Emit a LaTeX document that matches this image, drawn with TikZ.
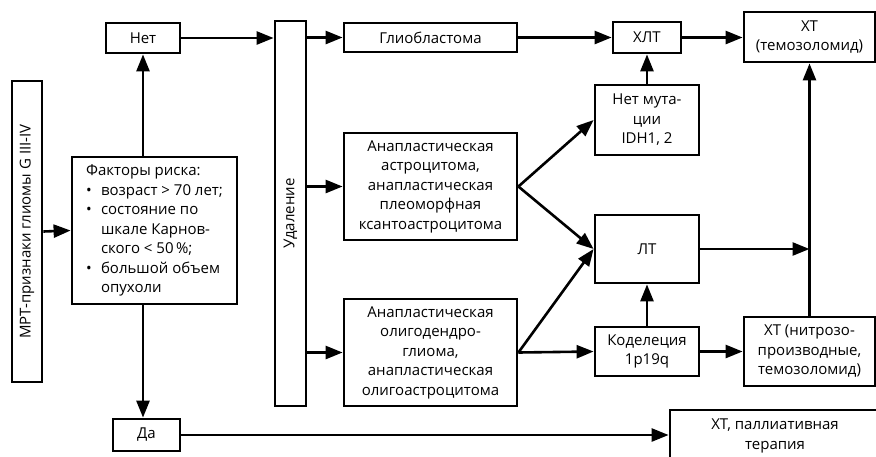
\documentclass[tikz,border=0pt]{standalone}
\usepackage{fontspec}
\setmainfont{Open Sans}
\usetikzlibrary{arrows.meta}

\begin{document}
\begin{tikzpicture}[x=1pt,y=-1pt,
        box/.style={draw,line width=2.8pt,align=center,inner sep=2pt,font=\fontsize{15}{19.5}\selectfont},
        arr/.style={line width=2.6pt,-{Triangle[length=17pt,width=13pt]}}]
        \useasboundingbox (0,0) rectangle (876,456);
        \node[box,rotate=90,minimum width=301pt,minimum height=30pt] (mrt) at (27,231.5) {МРТ-признаки глиомы G III-IV};
        \node[box,align=left,minimum width=165pt,minimum height=147pt] (factors) at (154.5,230.5)
            {Факторы риска:\\
             \makebox[15pt][l]{•}возраст > 70 лет;\\
             \makebox[15pt][l]{•}состояние по\\
             \hspace*{15pt}шкале Карнов-\\
             \hspace*{15pt}ского < 50\,\%;\\
             \makebox[15pt][l]{•}большой объем\\
             \hspace*{15pt}опухоли};
        \node[box,minimum width=74pt,minimum height=30pt] (net) at (143,38) {Нет};
        \node[box,minimum width=67pt,minimum height=32pt] (da) at (146.5,435) {Да};
        \node[box,rotate=90,minimum width=385pt,minimum height=31pt] (udal) at (290.5,213.5) {Удаление};
        \node[box,minimum width=173pt,minimum height=29pt] (glio) at (430.5,37.5) {Глиобластома};
        \node[box,minimum width=173pt,minimum height=107pt] (astro) at (430.5,186.5)
            {Анапластическая\\астроцитома,\\анапластическая\\плеоморфная\\ксантоастроцитома};
        \node[box,minimum width=173pt,minimum height=107pt] (oligo) at (430.5,352.5)
            {Анапластическая\\олигодендро-\\глиома,\\анапластическая\\олигоастроцитома};
        \node[box,minimum width=68pt,minimum height=31pt] (hlt) at (647,37.5) {ХЛТ};
        \node[box,minimum width=104pt,minimum height=70pt] (mut) at (647,120) {Нет мута-\\ции\\IDH1, 2};
        \node[box,minimum width=104pt,minimum height=68pt] (lt) at (647,249) {ЛТ};
        \node[box,minimum width=104pt,minimum height=49pt] (codel) at (647,351.5) {Коделеция\\1p19q};
        \node[box,minimum width=131pt,minimum height=50pt] (xt1) at (809.5,37) {ХТ\\(темозоломид)};
        \node[box,minimum width=131pt,minimum height=69pt] (xt2) at (809.5,351.5) {ХТ (нитрозо-\\производные,\\темозоломид)};
        \node[box,minimum width=210pt,minimum height=52pt] (xt3) at (775,436) {ХТ, паллиативная\\терапия};
        \draw[arr] (mrt.south) -- (factors.west);
        \draw[arr] (factors.north -| net.south) -- (net.south);
        \draw[arr] (factors.south -| net.south) -- (da.north -| net.south);
        \draw[arr] (net.east) -- (net.east -| udal.north);
        \draw[arr] (da.east) -- (da.east -| xt3.west);
        \draw[arr] (udal.south |- glio.west) -- (glio.west);
        \draw[arr] (udal.south |- astro.west) -- (astro.west);
        \draw[arr] (udal.south |- oligo.west) -- (oligo.west);
        \draw[arr] (glio.east) -- (hlt.west);
        \draw[arr] (hlt.east) -- (hlt.east -| xt1.west);
        \draw[arr] (astro.east) -- (mut.west);
        \draw[arr] (astro.east) -- (lt.west);
        \draw[arr] (oligo.east) -- (lt.west);
        \draw[arr] (oligo.east) -- (codel.west);
        \draw[arr] (mut.north) -- (hlt.south);
        \draw[arr] (codel.north) -- (lt.south);
        \draw[arr] (codel.east) -- (codel.east -| xt2.west);
        \draw[arr] (xt2.north) -- (xt1.south);
        \draw[arr] (lt.east) -- (lt.east -| xt1.south);
    \end{tikzpicture}
\end{document}
